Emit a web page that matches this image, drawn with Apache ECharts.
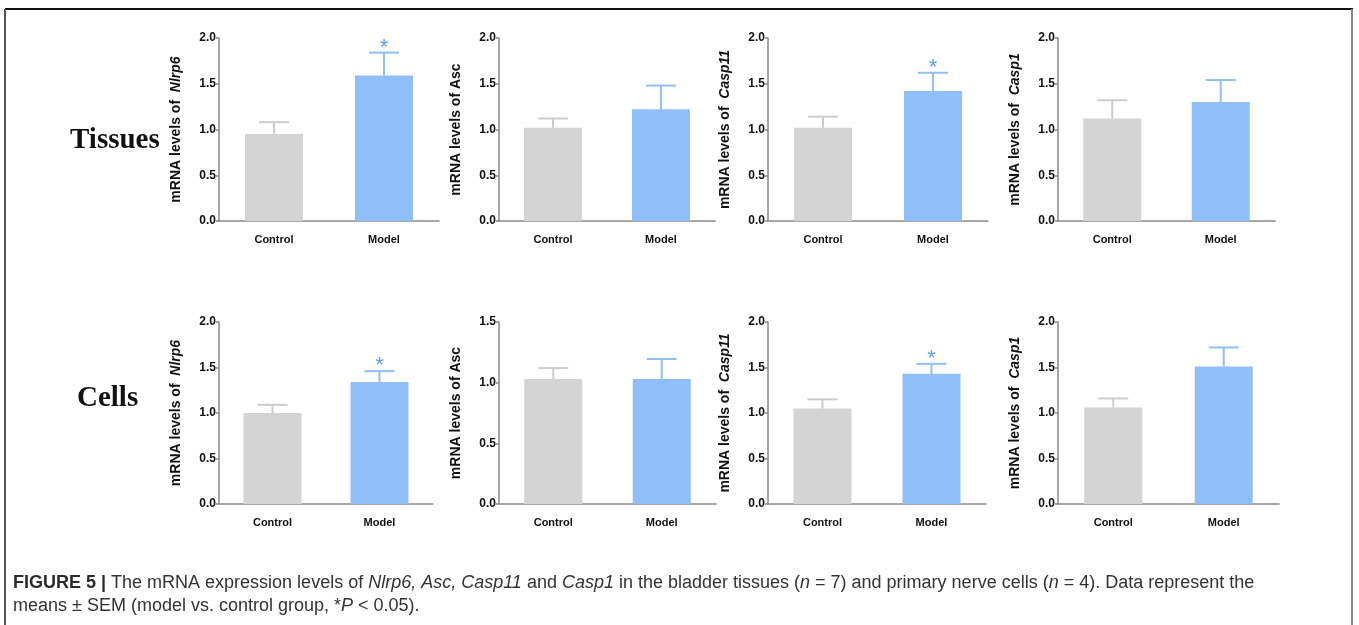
<!DOCTYPE html>
<html>
<head>
<meta charset="utf-8">
<script src="https://cdn.jsdelivr.net/npm/echarts@6/dist/echarts.min.js"></script>
<style>
  html, body { margin: 0; padding: 0; background: #fff; }
  #chart { width: 1359px; height: 625px; }
</style>
</head>
<body>
<div id="chart"></div>
<script>
// data
const genes = ['Nlrp6', 'Asc', 'Casp11', 'Casp1'];
const geneItalic = [true, false, true, true];
const groups = ['Control', 'Model'];

const tissueMeans = [[0.95, 1.59], [1.02, 1.22], [1.02, 1.42], [1.12, 1.30]];
const tissueSEM = [[0.13, 0.25], [0.10, 0.26], [0.12, 0.20], [0.20, 0.24]];
const tissueSig = [true, false, true, false];
const tissueMax = [2, 2, 2, 2];

const cellMeans = [[1.00, 1.34], [1.03, 1.03], [1.05, 1.43], [1.06, 1.51]];
const cellSEM = [[0.09, 0.12], [0.09, 0.165], [0.10, 0.11], [0.10, 0.21]];
const cellSig = [true, false, true, false];
const cellMax = [2, 1.5, 2, 2];

const yTicks = ['0.0', '0.5', '1.0', '1.5', '2.0'];

// panel layout (px)
const rowTop = [38, 322];
const rowHeight = [183, 182];
const colLeft = [219, 499, 768, 1058];
const colWidth = [[220, 216, 220, 217], [214, 217, 218, 221]];

const GREY = '#d4d4d4';
const BLUE = '#90bef8';
const STAR = '#5d9ef2';
const AXIS = '#8a8a8a';
const FONT = '"Liberation Sans", Arial, sans-serif';

const chart = echarts.init(document.getElementById('chart'));

const grids = [], xAxes = [], yAxes = [], series = [];

function addPanel(row, col, means, sem, sig, ymax) {
    const idx = grids.length;
    grids.push({
        left: colLeft[col], top: rowTop[row],
        width: colWidth[row][col], height: rowHeight[row]
    });
    xAxes.push({
        type: 'category', gridIndex: idx, data: groups,
        axisLine: { lineStyle: { color: AXIS, width: 1.5 } },
        axisTick: { alignWithLabel: true, length: 5, lineStyle: { color: AXIS, width: 1.5 } },
        axisLabel: { color: '#111', fontWeight: 'bold', fontSize: 11, fontFamily: FONT, margin: 13 }
    });
    const g = genes[col];
    yAxes.push({
        type: 'value', gridIndex: idx, min: 0, max: ymax, interval: 0.5,
        name: geneItalic[col] ? '{a|mRNA levels of  }{b|' + g + '}' : '{a|mRNA levels of ' + g + '}',
        nameLocation: 'middle', nameGap: 36,
        nameTextStyle: {
            rich: {
                a: { fontWeight: 'bold', fontSize: 14, color: '#111', fontFamily: FONT },
                b: { fontWeight: 'bold', fontStyle: 'italic', fontSize: 14, color: '#111', fontFamily: FONT }
            }
        },
        axisLine: { show: true, lineStyle: { color: AXIS, width: 1.5 } },
        axisTick: { show: true, length: 3, lineStyle: { color: AXIS, width: 1.5 } },
        splitLine: { show: false },
        axisLabel: {
            color: '#111', fontWeight: 'bold', fontSize: 12, fontFamily: FONT, margin: 3,
            formatter: v => yTicks[Math.round(v * 2)]
        }
    });
    series.push({
        type: 'bar', xAxisIndex: idx, yAxisIndex: idx, barWidth: 58,
        data: means.map((m, i) => ({ value: m, itemStyle: { color: i === 0 ? GREY : BLUE } })),
        silent: true
    });
    series.push({
        type: 'custom', xAxisIndex: idx, yAxisIndex: idx, silent: true, z: 3,
        data: means.map((m, i) => [i, m, m + sem[i], i === 1 && sig ? 1 : 0]),
        renderItem: (params, api) => {
            const i = api.value(0);
            const p0 = api.coord([i, api.value(1)]);
            const p1 = api.coord([i, api.value(2)]);
            const col = i === 0 ? '#cdcdcd' : BLUE;
            const style = { stroke: col, lineWidth: 2 };
            const children = [
                { type: 'line', shape: { x1: p0[0], y1: p0[1], x2: p1[0], y2: p1[1] }, style },
                { type: 'line', shape: { x1: p1[0] - 15, y1: p1[1], x2: p1[0] + 15, y2: p1[1] }, style }
            ];
            if (api.value(3)) {
                children.push({
                    type: 'text', x: p1[0], y: p1[1] - 5,
                    style: { text: '*', fill: STAR, fontSize: 22, fontFamily: FONT,
                             textAlign: 'center', textVerticalAlign: 'middle' }
                });
            }
            return { type: 'group', children };
        }
    });
}

for (let c = 0; c < 4; c++) addPanel(0, c, tissueMeans[c], tissueSEM[c], tissueSig[c], tissueMax[c]);
for (let c = 0; c < 4; c++) addPanel(1, c, cellMeans[c], cellSEM[c], cellSig[c], cellMax[c]);

const capRich = {
    b: { fontWeight: 'bold', fontSize: 18, fill: '#2b2b2b', fontFamily: FONT },
    i: { fontStyle: 'italic', fontSize: 18, fill: '#333', fontFamily: FONT }
};

chart.setOption({
    animation: false,
    grid: grids,
    xAxis: xAxes,
    yAxis: yAxes,
    series: series,
    graphic: [
        { type: 'line', shape: { x1: 5, y1: 9, x2: 1353, y2: 9 }, style: { stroke: '#111', lineWidth: 2 } },
        { type: 'line', shape: { x1: 5, y1: 9, x2: 5, y2: 625 }, style: { stroke: '#555', lineWidth: 2 } },
        { type: 'line', shape: { x1: 1352, y1: 9, x2: 1352, y2: 625 }, style: { stroke: '#888', lineWidth: 2 } },
        { type: 'text', x: 70, y: 141, style: { text: 'Tissues', fontFamily: '"Liberation Serif", "Times New Roman", serif', fontWeight: 'bold', fontSize: 29, fill: '#111', textVerticalAlign: 'middle' } },
        { type: 'text', x: 77, y: 399, style: { text: 'Cells', fontFamily: '"Liberation Serif", "Times New Roman", serif', fontWeight: 'bold', fontSize: 29, fill: '#111', textVerticalAlign: 'middle' } },
        { type: 'text', x: 13, y: 583, style: {
            text: '{b|FIGURE 5 |} The mRNA expression levels of {i|Nlrp6, Asc, Casp11} and {i|Casp1} in the bladder tissues ({i|n} = 7) and primary nerve cells ({i|n} = 4). Data represent the',
            rich: capRich, fontSize: 18, fill: '#333', fontFamily: FONT, textVerticalAlign: 'middle' } },
        { type: 'text', x: 13, y: 606, style: {
            text: 'means ± SEM (model vs. control group, *{i|P} < 0.05).',
            rich: capRich, fontSize: 18, fill: '#333', fontFamily: FONT, textVerticalAlign: 'middle' } }
    ]
});
</script>
</body>
</html>
